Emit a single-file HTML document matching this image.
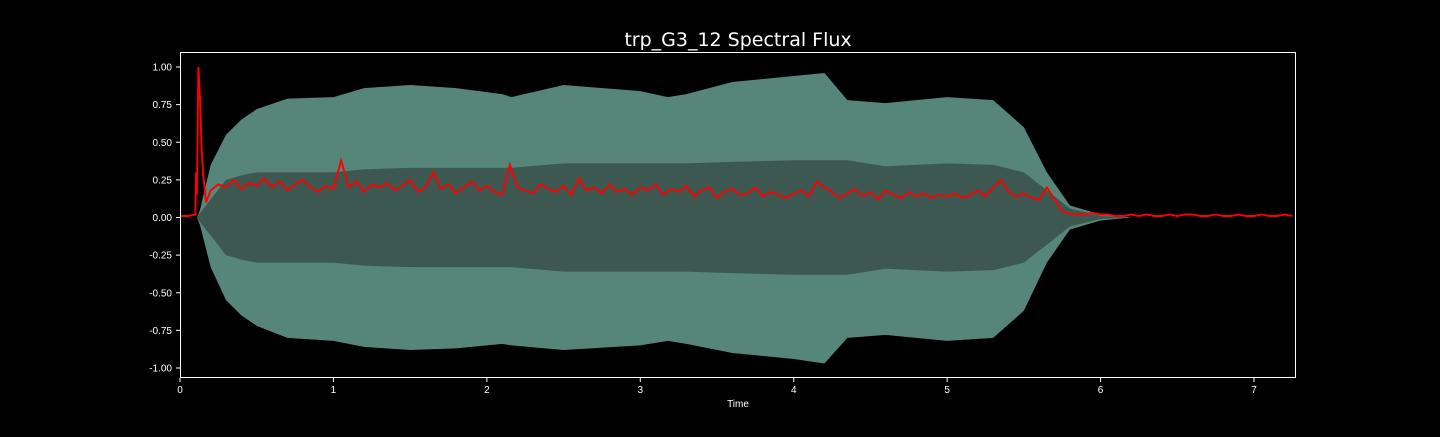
<!DOCTYPE html>
<html><head><meta charset="utf-8"><style>
body{margin:0;background:#000;width:1440px;height:432px;overflow:hidden;font-family:"Liberation Sans","DejaVu Sans",sans-serif}
svg text{fill:#fff}
</style></head><body>
<svg id="chart" width="1440" height="432" xmlns="http://www.w3.org/2000/svg">
<rect width="1440" height="432" fill="#000"/>
<text x="738" y="46" font-size="19" text-anchor="middle" font-family="DejaVu Sans, sans-serif">trp_G3_12 Spectral Flux</text>
<g id="plot"></g>
<rect x="180.5" y="52.5" width="1115" height="325" fill="none" stroke="#fff" stroke-width="1"/>
<text x="738" y="407" font-size="10" text-anchor="middle">Time</text>
</svg>
<script>
const envTimes=[0,0.11,0.13,0.2,0.3,0.4,0.5,0.7,1.0,1.2,1.5,1.8,2.1,2.16,2.5,3.0,3.18,3.3,3.6,4.0,4.2,4.35,4.6,5.0,5.3,5.5,5.65,5.8,6.0,6.2,7.27];
const outerUpper=[0,0,0.05,0.35,0.55,0.65,0.72,0.79,0.80,0.86,0.88,0.86,0.82,0.80,0.88,0.84,0.80,0.82,0.90,0.94,0.96,0.78,0.76,0.80,0.78,0.60,0.30,0.08,0.02,0,0];
const outerLower=[0,0,-0.05,-0.33,-0.55,-0.65,-0.72,-0.80,-0.82,-0.86,-0.88,-0.87,-0.84,-0.85,-0.88,-0.85,-0.82,-0.84,-0.90,-0.94,-0.97,-0.80,-0.78,-0.82,-0.80,-0.62,-0.30,-0.08,-0.02,0,0];
const innerUpper=[0,0,0.03,0.12,0.25,0.28,0.3,0.3,0.3,0.32,0.33,0.33,0.33,0.33,0.36,0.36,0.36,0.36,0.37,0.38,0.38,0.38,0.34,0.36,0.35,0.30,0.18,0.06,0.01,0,0];
const innerLower=innerUpper.map(v=>-v);
const fluxTimes=[0,0.05,0.1,0.105,0.11,0.12,0.13,0.14,0.15,0.17];
const fluxHead=[0.01,0.01,0.02,0.3,0.15,1.0,0.8,0.48,0.3,0.1];
const fluxBody=[.18,.22,.2,.25,.19,.23,.21,.26,.2,.24,.18,.22,.25,.2,.17,.21,.19,
.38,.2,.24,.17,.22,.2,.23,.18,.21,.25,.17,.2,.3,.19,.22,.16,.2,.24,.18,.21,
.17,.15,.35,.2,.18,.16,.22,.19,.17,.21,.15,.26,.18,.2,.16,.22,.17,.19,.15,.2,
.18,.22,.15,.19,.17,.21,.14,.18,.2,.13,.17,.19,.15,.16,.2,.14,.17,.15,.13,.16,
.18,.14,.24,.2,.17,.13,.16,.19,.14,.17,.12,.18,.15,.13,.17,.14,.16,.13,.15,.14,
.16,.13,.15,.18,.14,.2,.25,.17,.14,.16,.13,.12,
.2,.12,.04,.025,
.02,.02,.03,.02,.02,.01,.01,.02,.01,.02,.01,.01,.02,.01,.02,.02,.01,.01,.02,.01,.01,.02,.01,.01,.02,.01,.01,.02,.01];
const xTicks=[0,1,2,3,4,5,6,7];
const yTicks=[1.0,0.75,0.5,0.25,0,-0.25,-0.5,-0.75,-1.0];

const X=t=>180+t*153.43;
const Y=v=>217.5-v*150.5;
const NS="http://www.w3.org/2000/svg";
const plot=document.getElementById('plot');
const svg=document.getElementById('chart');
function band(up,lo,fill,name){
  let d='M'+envTimes.map((t,i)=>X(t)+','+Y(up[i])).join('L');
  for(let i=envTimes.length-1;i>=0;i--)d+='L'+X(envTimes[i])+','+Y(lo[i]);
  const p=document.createElementNS(NS,'path');
  p.setAttribute('d',d+'Z');p.setAttribute('fill',fill);
  
  
  plot.appendChild(p);
}
band(outerUpper,outerLower,'#568579','waveform-outer');
band(innerUpper,innerLower,'#3c5850','waveform-inner');
const ft=fluxTimes.slice();const fv=fluxHead.concat(fluxBody);
for(let i=0;i<fluxBody.length;i++)ft.push(0.2+i*0.05);
const line=document.createElementNS(NS,'polyline');
line.setAttribute('points',ft.map((t,i)=>X(Math.min(t,7.27))+','+Y(fv[i])).join(' '));
line.setAttribute('fill','none');line.setAttribute('stroke','#ff0000');line.setAttribute('stroke-width','1.9');


plot.appendChild(line);
xTicks.forEach(v=>{
  const l=document.createElementNS(NS,'line');
  l.setAttribute('x1',X(v));l.setAttribute('x2',X(v));l.setAttribute('y1',378);l.setAttribute('y2',382);l.setAttribute('stroke','#fff');
  
  
  svg.appendChild(l);
  const t=document.createElementNS(NS,'text');
  t.setAttribute('x',X(v));t.setAttribute('y',393);t.setAttribute('font-size','10');t.setAttribute('text-anchor','middle');
  t.textContent=v;
  
  
  svg.appendChild(t);
});
yTicks.forEach(v=>{
  const l=document.createElementNS(NS,'line');
  l.setAttribute('x1',176);l.setAttribute('x2',180);l.setAttribute('y1',Y(v));l.setAttribute('y2',Y(v));l.setAttribute('stroke','#fff');
  
  
  svg.appendChild(l);
  const t=document.createElementNS(NS,'text');
  t.setAttribute('x',172);t.setAttribute('y',Y(v)+3.5);t.setAttribute('font-size','10');t.setAttribute('text-anchor','end');
  t.textContent=v.toFixed(2);
  
  
  svg.appendChild(t);
});
</script>
</body></html>
